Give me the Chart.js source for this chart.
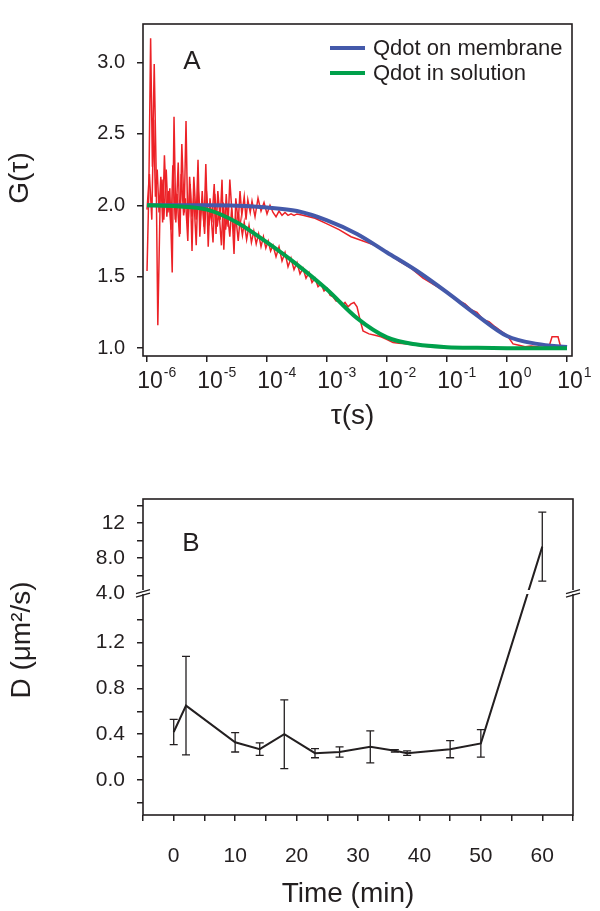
<!DOCTYPE html>
<html>
<head>
<meta charset="utf-8">
<script src="https://cdn.jsdelivr.net/npm/chart.js@4.4.1/dist/chart.umd.min.js"></script>
<style>
  html, body { margin: 0; padding: 0; background: #fff; }
  #wrap { position: relative; width: 600px; height: 911px; }
  canvas { position: absolute; left: 0; }
  #chartA { top: 0; }
  #chartB { top: 440px; }
</style>
</head>
<body>
<div id="wrap">
  <canvas id="chartA" width="600" height="440"></canvas>
  <canvas id="chartB" width="600" height="471"></canvas>
</div>
<script>
// ---------- Panel A : correlation curves (x = log10 tau) ----------
const fitTauExp   = [-6, -5.5, -5, -4.5, -4, -3.5, -3, -2.5, -2, -1.5, -1, -0.5, 0, 0.5, 1]
const fitMembrane = [2.0, 2.0, 2.0, 1.997, 1.985, 1.96, 1.895, 1.80, 1.67, 1.54, 1.39, 1.23, 1.085, 1.03, 1.008]
const fitSolution = [2.0, 1.993, 1.97, 1.88, 1.74, 1.585, 1.41, 1.21, 1.075, 1.025, 1.007, 1.002, 1.0, 1.0, 1.0]

const redMemExp = [-6.00,-5.97,-5.94,-5.91,-5.88,-5.85,-5.82,-5.78,-5.75,-5.72,-5.68,-5.65,-5.62,-5.58,-5.55,-5.52,-5.48,-5.45,-5.42,-5.38,-5.35,-5.32,-5.28,-5.25,-5.22,-5.18,-5.15,-5.12,-5.08,-5.05,-5.02,-4.98,-4.95,-4.92,-4.88,-4.85,-4.82,-4.78,-4.75,-4.72,-4.68,-4.65,-4.62,-4.58,-4.55,-4.52,-4.48,-4.45,-4.42,-4.38,-4.35,-4.32,-4.28,-4.25,-4.20,-4.15,-4.10,-4.05,-4.00,-3.95,-3.90,-3.85,-3.80,-3.75,-3.70,-3.65,-3.60,-3.55,-3.50,-3.40,-3.30,-3.20,-3.00,-2.80,-2.60,-2.40,-2.20,-2.00,-1.80,-1.60,-1.40,-1.20,-1.00,-0.90,-0.80,-0.70,-0.60,-0.50,-0.40,-0.30,-0.20,-0.10,0.00,0.10,0.20,0.30,0.40,0.50,0.60,0.70,0.75,0.85,0.90,1.00]
const redMemG   = [1.54,2.10,3.17,2.27,2.99,2.29,1.16,2.05,2.18,1.90,2.25,1.95,2.12,1.53,2.62,1.88,2.30,1.80,2.43,1.95,2.59,1.85,2.15,1.68,2.20,1.90,2.32,1.78,2.10,1.85,2.29,1.71,2.05,1.88,2.15,1.80,2.10,1.90,2.18,1.69,2.08,1.85,2.18,1.92,1.66,2.05,1.88,2.10,1.93,2.06,1.90,2.04,1.95,2.03,1.92,2.05,1.96,2.02,1.94,2.00,1.95,1.92,1.96,1.93,1.95,1.93,1.94,1.93,1.94,1.93,1.92,1.91,1.87,1.83,1.78,1.75,1.72,1.67,1.61,1.56,1.49,1.44,1.39,1.36,1.33,1.31,1.27,1.25,1.20,1.185,1.15,1.12,1.09,1.03,1.02,1.01,1.015,1.01,1.005,1.01,1.08,1.08,1.00,1.00]

const redSolExp = [-6.00,-5.96,-5.92,-5.89,-5.86,-5.83,-5.80,-5.77,-5.74,-5.71,-5.67,-5.64,-5.60,-5.57,-5.53,-5.50,-5.46,-5.43,-5.39,-5.36,-5.32,-5.29,-5.25,-5.22,-5.18,-5.15,-5.11,-5.08,-5.04,-5.01,-4.97,-4.94,-4.90,-4.87,-4.83,-4.80,-4.76,-4.73,-4.69,-4.66,-4.62,-4.59,-4.55,-4.52,-4.48,-4.45,-4.41,-4.38,-4.34,-4.30,-4.26,-4.22,-4.18,-4.14,-4.10,-4.06,-4.02,-3.98,-3.94,-3.90,-3.85,-3.80,-3.75,-3.70,-3.65,-3.60,-3.55,-3.50,-3.45,-3.40,-3.35,-3.30,-3.25,-3.20,-3.15,-3.10,-3.05,-3.00,-2.95,-2.90,-2.85,-2.80,-2.75,-2.70,-2.65,-2.60,-2.55,-2.50,-2.45,-2.40,-2.30,-2.20,-2.10,-2.00,-1.90,-1.80,-1.70,-1.50,-1.30,-1.10,-0.50,0.50,1.00]
const redSolG   = [1.97,2.22,1.90,2.60,2.06,2.25,1.95,2.20,1.88,2.35,1.92,2.10,1.83,2.28,1.90,2.08,1.78,2.22,1.93,2.05,1.75,2.20,1.92,2.06,1.72,2.12,1.93,2.03,1.80,2.10,1.86,1.98,1.74,2.08,1.85,1.96,1.72,2.02,1.83,1.95,1.78,1.98,1.80,1.92,1.75,1.90,1.79,1.88,1.76,1.86,1.74,1.82,1.73,1.80,1.71,1.78,1.70,1.75,1.68,1.72,1.64,1.71,1.61,1.67,1.57,1.63,1.55,1.60,1.52,1.56,1.49,1.53,1.46,1.49,1.43,1.45,1.40,1.42,1.37,1.36,1.33,1.33,1.30,1.32,1.29,1.31,1.32,1.29,1.20,1.12,1.10,1.09,1.08,1.06,1.04,1.035,1.03,1.02,1.01,1.005,1.0,1.0,1.0]

const tauTickExps = [-6, -5, -4, -3, -2, -1, 0, 1]
const gTickValues = [1.0, 1.5, 2.0, 2.5, 3.0]

// ---------- Panel B : diffusion coefficient vs time ----------
const timeMin = [0, 2, 10, 14, 18, 23, 27, 32, 36, 38, 45, 50, 60]
const dValues = [0.42, 0.65, 0.33, 0.27, 0.40, 0.235, 0.245, 0.29, 0.255, 0.235, 0.27, 0.32, 9.3]
const dErrors = [0.11, 0.43, 0.085, 0.055, 0.30, 0.04, 0.045, 0.14, 0.01, 0.02, 0.075, 0.12, 3.95]

const timeTickValues = [-5, 0, 5, 10, 15, 20, 25, 30, 35, 40, 45, 50, 55, 60, 65]
const timeTickLabels = ['', '0', '', '10', '', '20', '', '30', '', '40', '', '50', '', '60', '']
const dTickValues = [-0.2, 0, 0.2, 0.4, 0.6, 0.8, 1.0, 1.2, 1.4, 4, 6, 8, 10, 12, 14]
const dTickLabels = ['', '0.0', '', '0.4', '', '0.8', '', '1.2', '', '4.0', '', '8.0', '', '12', '']

const ink = '#231f20'
const FONT = '"Liberation Sans", Arial, Helvetica, sans-serif'
Chart.defaults.font.family = FONT
Chart.defaults.color = ink

// linear scale with a gap between brk.lo and brk.hi (lower part takes brk.frac of the height)
class BrokenLinearScale extends Chart.LinearScale {
  getPixelForValue(value) {
    const b = this.options.brk
    let dec
    if (value <= b.lo) dec = (value - this.min) / (b.lo - this.min) * b.frac
    else dec = b.frac + (value - b.hi) / (this.max - b.hi) * (1 - b.frac)
    return this.getPixelForDecimal(dec)
  }
  getValueForPixel(pixel) {
    const b = this.options.brk
    const dec = this.getDecimalForPixel(pixel)
    if (dec <= b.frac) return this.min + dec / b.frac * (b.lo - this.min)
    return b.hi + (dec - b.frac) / (1 - b.frac) * (this.max - b.hi)
  }
}
BrokenLinearScale.id = 'brokenLinear'
Chart.register(BrokenLinearScale)

function tickGrid() {
  return { display: true, drawOnChartArea: false, drawTicks: true, tickLength: 6, color: ink, lineWidth: 1.5 }
}

// ---------- Chart A ----------
const panelAPlugin = {
  id: 'panelA',
  afterDraw(chart) {
    const { ctx, chartArea: ca, scales } = chart
    ctx.save()
    ctx.strokeStyle = ink
    ctx.lineWidth = 1.6
    ctx.strokeRect(ca.left, ca.top, ca.right - ca.left, ca.bottom - ca.top)

    // decade labels 10^n
    ctx.fillStyle = ink
    tauTickExps.forEach(e => {
      const x = scales.x.getPixelForValue(Math.pow(10, e))
      ctx.font = '23px ' + FONT
      ctx.textAlign = 'center'
      ctx.textBaseline = 'alphabetic'
      ctx.fillText('10', x + 3, ca.bottom + 32)
      const w = ctx.measureText('10').width
      ctx.font = '14px ' + FONT
      ctx.textAlign = 'left'
      ctx.fillText(e < 0 ? '-' + (-e) : String(e), x + 4 + w / 2, ca.bottom + 21)
    })

    // axis titles
    ctx.font = '28px ' + FONT
    ctx.textAlign = 'center'
    ctx.textBaseline = 'middle'
    ctx.fillText('τ(s)', (ca.left + ca.right) / 2 - 5, ca.bottom + 60)
    ctx.save()
    ctx.translate(20, (ca.top + ca.bottom) / 2 - 12)
    ctx.rotate(-Math.PI / 2)
    ctx.fillText('G(τ)', 0, 0)
    ctx.restore()

    // panel letter
    ctx.font = '26px ' + FONT
    ctx.fillText('A', ca.left + 49, ca.top + 38)

    // legend inside plot
    ctx.font = '22px ' + FONT
    ctx.textAlign = 'left'
    chart.data.datasets.filter(d => d.legendRow).sort((a, b) => a.legendRow - b.legendRow).forEach((d, i) => {
      const y = ca.top + 24 + i * 25
      ctx.strokeStyle = d.borderColor
      ctx.lineWidth = 4
      ctx.beginPath()
      ctx.moveTo(ca.right - 242, y)
      ctx.lineTo(ca.right - 207, y)
      ctx.stroke()
      ctx.fillText(d.label, ca.right - 199, y + 1)
    })
    ctx.restore()
  }
}

new Chart(document.getElementById('chartA'), {
  type: 'line',
  data: {
    datasets: [
      {
        label: 'Qdot in solution',
        legendRow: 2,
        data: fitTauExp.map((e, i) => ({ x: Math.pow(10, e), y: fitSolution[i] })),
        borderColor: '#00a04b',
        borderWidth: 4,
        pointRadius: 0,
        cubicInterpolationMode: 'monotone',
        order: 0
      },
      {
        label: 'Qdot on membrane',
        legendRow: 1,
        data: fitTauExp.map((e, i) => ({ x: Math.pow(10, e), y: fitMembrane[i] })),
        borderColor: '#4459aa',
        borderWidth: 4,
        pointRadius: 0,
        cubicInterpolationMode: 'monotone',
        order: 1
      },
      {
        label: 'data membrane',
        data: redMemExp.map((e, i) => ({ x: Math.pow(10, e), y: redMemG[i] })),
        borderColor: '#ec2227',
        borderWidth: 1.5,
        pointRadius: 0,
        tension: 0,
        order: 2
      },
      {
        label: 'data solution',
        data: redSolExp.map((e, i) => ({ x: Math.pow(10, e), y: redSolG[i] })),
        borderColor: '#ec2227',
        borderWidth: 1.5,
        pointRadius: 0,
        tension: 0,
        order: 3
      }
    ]
  },
  options: {
    responsive: false,
    animation: false,
    devicePixelRatio: 1,
    layout: { padding: { top: 18, right: 28, left: 0, bottom: 0 } },
    plugins: { legend: { display: false }, tooltip: { enabled: false } },
    scales: {
      x: {
        type: 'logarithmic',
        min: Math.pow(10, -6.067),
        max: Math.pow(10, 1.083),
        bounds: 'data',
        afterBuildTicks: s => { s.ticks = tauTickExps.map(e => ({ value: Math.pow(10, e) })) },
        afterFit: s => { s.height = 84 },
        grid: tickGrid(),
        border: { display: false },
        ticks: { callback: () => '', maxRotation: 0, autoSkip: false }
      },
      y: {
        type: 'linear',
        min: 0.945,
        max: 3.27,
        bounds: 'data',
        afterBuildTicks: s => { s.ticks = gTickValues.map(v => ({ value: v })) },
        afterFit: s => { s.width = 143 },
        grid: tickGrid(),
        border: { display: false },
        ticks: { padding: 12, font: { size: 20 }, color: ink, callback: v => Number(v).toFixed(1) }
      }
    }
  },
  plugins: [panelAPlugin]
})

// ---------- Chart B ----------
const panelBPlugin = {
  id: 'panelB',
  afterDatasetsDraw(chart) {
    const { ctx, scales } = chart
    ctx.save()
    ctx.strokeStyle = ink
    ctx.lineWidth = 1.3
    timeMin.forEach((t, i) => {
      const x = scales.x.getPixelForValue(t)
      const yHi = scales.y.getPixelForValue(dValues[i] + dErrors[i])
      const yLo = scales.y.getPixelForValue(dValues[i] - dErrors[i])
      ctx.beginPath()
      ctx.moveTo(x, yHi); ctx.lineTo(x, yLo)
      ctx.moveTo(x - 4, yHi); ctx.lineTo(x + 4, yHi)
      ctx.moveTo(x - 4, yLo); ctx.lineTo(x + 4, yLo)
      ctx.stroke()
    })
    ctx.restore()
  },
  afterDraw(chart) {
    const { ctx, chartArea: ca, scales } = chart
    const brk = scales.y.options.brk
    ctx.save()
    ctx.strokeStyle = ink
    ctx.lineWidth = 1.6
    ctx.strokeRect(ca.left, ca.top, ca.right - ca.left, ca.bottom - ca.top)

    // axis break
    const by = scales.y.getPixelForValue(brk.hi)
    ctx.fillStyle = '#fff'
    ctx.beginPath()
    ctx.moveTo(ca.left - 8, by + 1)
    ctx.lineTo(ca.right + 8, by + 1)
    ctx.lineTo(ca.right + 8, by - 3)
    ctx.lineTo(ca.left - 8, by - 3)
    ctx.closePath()
    ctx.fill()
    ctx.strokeStyle = ink
    ctx.lineWidth = 1.3
    ;[ca.left, ca.right].forEach(bx => {
      ctx.beginPath()
      ctx.moveTo(bx - 7, by + 0.5); ctx.lineTo(bx + 7, by - 3.5)
      ctx.moveTo(bx - 7, by + 4); ctx.lineTo(bx + 7, by)
      ctx.stroke()
    })

    // titles
    ctx.fillStyle = ink
    ctx.font = '28px ' + FONT
    ctx.textAlign = 'center'
    ctx.textBaseline = 'middle'
    ctx.fillText('Time (min)', (ca.left + ca.right) / 2 - 10, ca.bottom + 79)
    ctx.save()
    ctx.translate(22, (ca.top + ca.bottom) / 2 - 17)
    ctx.rotate(-Math.PI / 2)
    ctx.fillText('D (μm²/s)', 0, 0)
    ctx.restore()

    ctx.font = '26px ' + FONT
    ctx.fillText('B', ca.left + 48, ca.top + 45)
    ctx.restore()
  }
}

new Chart(document.getElementById('chartB'), {
  type: 'line',
  data: {
    datasets: [{
      label: 'D',
      data: timeMin.map((t, i) => ({ x: t, y: dValues[i] })),
      borderColor: ink,
      borderWidth: 2,
      pointRadius: 0,
      tension: 0
    }]
  },
  options: {
    responsive: false,
    animation: false,
    devicePixelRatio: 1,
    layout: { padding: { top: 59, right: 27, left: 0, bottom: 0 } },
    plugins: { legend: { display: false }, tooltip: { enabled: false } },
    scales: {
      x: {
        type: 'linear',
        min: -5,
        max: 65,
        bounds: 'data',
        afterBuildTicks: s => { s.ticks = timeTickValues.map(v => ({ value: v })) },
        afterFit: s => { s.height = 96 },
        grid: tickGrid(),
        border: { display: false },
        ticks: { padding: 23, font: { size: 21 }, color: ink, maxRotation: 0, autoSkip: false,
                 callback: (v, i) => timeTickLabels[i] }
      },
      y: {
        type: 'brokenLinear',
        min: -0.305,
        max: 14.74,
        bounds: 'data',
        brk: { lo: 1.633, hi: 4.0, frac: 0.7025 },
        afterBuildTicks: s => { s.ticks = dTickValues.map(v => ({ value: v })) },
        afterFit: s => { s.width = 143 },
        grid: tickGrid(),
        border: { display: false },
        ticks: { padding: 12, font: { size: 21 }, color: ink, autoSkip: false,
                 callback: (v, i) => dTickLabels[i] }
      }
    }
  },
  plugins: [panelBPlugin]
})
</script>
</body>
</html>
